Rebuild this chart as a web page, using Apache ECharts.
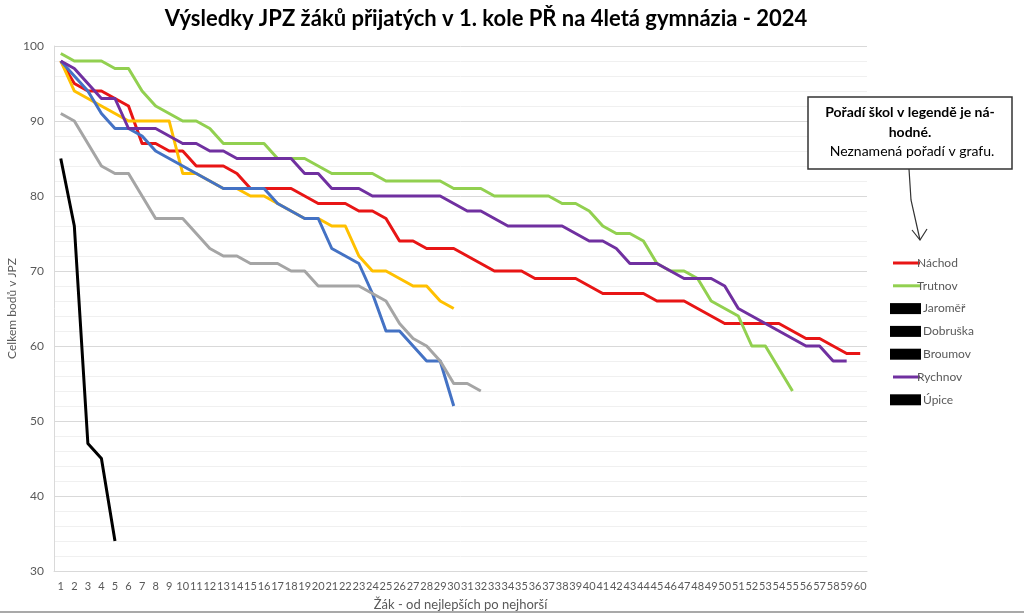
<!DOCTYPE html>
<html>
<head>
<meta charset="utf-8">
<title>Výsledky JPZ</title>
<script src="https://cdn.jsdelivr.net/npm/echarts@6/dist/echarts.min.js"></script>
<style>
  html, body { margin: 0; padding: 0; background: #fff; }
  #chart { width: 1024px; height: 614px; }
</style>
</head>
<body>
<div id="chart"></div>
<script>
// pořadí žáka (osa x)
const zaci = ["1","2","3","4","5","6","7","8","9","10","11","12","13","14","15","16","17","18","19","20",
  "21","22","23","24","25","26","27","28","29","30","31","32","33","34","35","36","37","38","39","40",
  "41","42","43","44","45","46","47","48","49","50","51","52","53","54","55","56","57","58","59","60"];

const nachod = [98,95,94,94,93,92,87,87,86,86,84,84,84,83,81,81,81,81,80,79,
  79,79,78,78,77,74,74,73,73,73,72,71,70,70,70,69,69,69,69,68,
  67,67,67,67,66,66,66,65,64,63,63,63,63,63,62,61,61,60,59,59];
const trutnov = [99,98,98,98,97,97,94,92,91,90,90,89,87,87,87,87,85,85,85,84,
  83,83,83,83,82,82,82,82,82,81,81,81,80,80,80,80,80,79,79,78,
  76,75,75,74,71,70,70,69,66,65,64,60,60,57,54];
const jaromer = [98,94,93,92,91,90,90,90,90,83,83,82,81,81,80,80,79,78,77,77,
  76,76,72,70,70,69,68,68,66,65];
const dobruska = [98,96,94,91,89,89,88,86,85,84,83,82,81,81,81,81,79,78,77,77,
  73,72,71,67,62,62,60,58,58,52];
const broumov = [91,90,87,84,83,83,80,77,77,77,75,73,72,72,71,71,71,70,70,68,
  68,68,68,67,66,63,61,60,58,55,55,54];
const rychnov = [98,97,95,93,93,89,89,89,88,87,87,86,86,85,85,85,85,85,83,83,
  81,81,81,80,80,80,80,80,80,79,78,78,77,76,76,76,76,76,75,74,
  74,73,71,71,71,70,69,69,69,68,65,64,63,62,61,60,60,58,58];
const upice = [85,76,47,45,34];

const skoly = ["Náchod", "Trutnov", "Jaroměř", "Dobruška", "Broumov", "Rychnov", "Úpice"];
const body = [nachod, trutnov, jaromer, dobruska, broumov, rychnov, upice];
const barvy = ["#e81515", "#92d050", "#ffc000", "#4472c4", "#a5a5a5", "#7030a0", "#000000"];
// začerněné položky legendy
const skryte = ["Jaroměř", "Dobruška", "Broumov", "Úpice"];

const font = "Lato, 'Open Sans', sans-serif";
const chart = echarts.init(document.getElementById("chart"));

chart.setOption({
  animation: false,
  textStyle: { fontFamily: font },
  title: {
    text: "Výsledky JPZ žáků přijatých v 1. kole PŘ na 4letá gymnázia - 2024",
    left: 481,
    textAlign: "center",
    top: 3,
    textStyle: { fontFamily: font, fontSize: 22, fontWeight: "bold", color: "#000" }
  },
  grid: { left: 54, right: 157, top: 46, bottom: 43, outerBoundsMode: "none", containLabel: false },
  xAxis: {
    type: "category",
    data: zaci,
    boundaryGap: true,
    name: "Žák - od nejlepších po nejhorší",
    nameLocation: "middle",
    nameGap: 27,
    nameMoveOverlap: false,
    nameTextStyle: { fontSize: 13, color: "#595959" },
    axisLine: { lineStyle: { color: "#d9d9d9", width: 1 } },
    axisTick: { show: false },
    axisLabel: { interval: 0, fontSize: 11, color: "#595959", margin: 10 }
  },
  yAxis: {
    type: "value",
    min: 30,
    max: 100,
    interval: 10,
    name: "Celkem bodů v JPZ",
    nameLocation: "middle",
    nameGap: 36,
    nameMoveOverlap: false,
    nameTextStyle: { fontSize: 12, color: "#595959" },
    axisLine: { show: true, lineStyle: { color: "#d9d9d9" } },
    axisTick: { show: false },
    axisLabel: { fontSize: 12, color: "#595959", margin: 10 },
    splitLine: { lineStyle: { color: "#d9d9d9" } },
    minorTick: { show: false, splitNumber: 5 },
    minorSplitLine: { show: true, lineStyle: { color: "#f0f0f0" } }
  },
  legend: skoly.map(function (s, i) {
    const cerna = skryte.indexOf(s) >= 0;
    return {
      data: [s],
      orient: "vertical",
      left: cerna ? 885 : 888,
      top: 252 + i * 22.8,
      icon: "rect",
      itemWidth: cerna ? 31 : 27,
      itemHeight: cerna ? 11 : 3,
      itemStyle: { color: cerna ? "#000" : barvy[i] },
      textStyle: { fontSize: 12, color: "#595959", fontFamily: font, padding: [0, 0, 0, cerna ? -3 : -8] }
    };
  }),
  series: skoly.map(function (s, i) {
    return {
      name: s,
      type: "line",
      data: body[i],
      symbol: "none",
      color: barvy[i],
      itemStyle: { color: barvy[i] },
      lineStyle: { width: 3, color: barvy[i], join: "round" }
    };
  }),
  graphic: [
    {
      type: "rect", z: 100,
      shape: { x: 808, y: 97, width: 204, height: 72 },
      style: { fill: "#fff", stroke: "#333", lineWidth: 1.5 }
    },
    {
      type: "text", x: 910, y: 112, z: 101,
      style: { text: "Pořadí škol v legendě je ná-", font: "bold 14px " + font, fill: "#000", align: "center", verticalAlign: "middle" }
    },
    {
      type: "text", x: 910, y: 132, z: 101,
      style: { text: "hodné.", font: "bold 14px " + font, fill: "#000", align: "center", verticalAlign: "middle" }
    },
    {
      type: "text", x: 912, y: 151, z: 101,
      style: { text: "Neznamená pořadí v grafu.", font: "14px " + font, fill: "#000", align: "center", verticalAlign: "middle" }
    },
    {
      type: "polyline", z: 100,
      shape: { points: [[909, 169], [911, 200], [920, 240]] },
      style: { stroke: "#333", lineWidth: 1.2, fill: null }
    },
    {
      type: "polyline", z: 100,
      shape: { points: [[912, 230], [920, 240], [927, 229]] },
      style: { stroke: "#333", lineWidth: 1.2, fill: null }
    },
    {
      type: "line", z: 100,
      shape: { x1: 0, y1: 612, x2: 1024, y2: 612 },
      style: { stroke: "#8c8c8c", lineWidth: 1.5 }
    }
  ]
});
</script>
</body>
</html>
